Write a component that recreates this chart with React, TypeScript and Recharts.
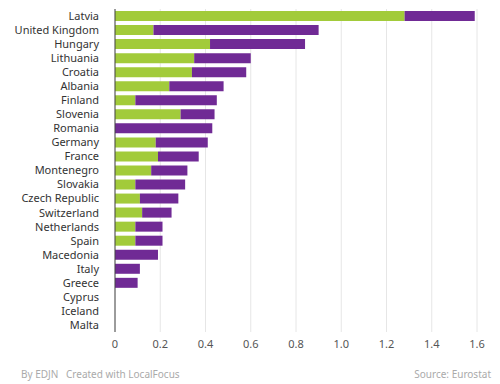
import { BarChart, Bar, XAxis, YAxis, CartesianGrid } from 'recharts'

const countries = [
  'Latvia', 'United Kingdom', 'Hungary', 'Lithuania', 'Croatia', 'Albania', 'Finland',
  'Slovenia', 'Romania', 'Germany', 'France', 'Montenegro', 'Slovakia', 'Czech Republic',
  'Switzerland', 'Netherlands', 'Spain', 'Macedonia', 'Italy', 'Greece', 'Cyprus',
  'Iceland', 'Malta',
]
const greenValues = [
  1.28, 0.17, 0.42, 0.35, 0.34, 0.24, 0.09, 0.29, 0, 0.18, 0.19, 0.16, 0.09, 0.11,
  0.12, 0.09, 0.09, 0, 0, 0, 0, 0, 0,
]
const purpleValues = [
  0.31, 0.73, 0.42, 0.25, 0.24, 0.24, 0.36, 0.15, 0.43, 0.23, 0.18, 0.16, 0.22, 0.17,
  0.13, 0.12, 0.12, 0.19, 0.11, 0.1, 0, 0, 0,
]
const xTicks = [0, 0.2, 0.4, 0.6, 0.8, 1.0, 1.2, 1.4, 1.6]

const GREEN = '#a2cb3a'
const PURPLE = '#702a95'
const FONT = '"Noto Sans", "Open Sans", sans-serif'

const data = countries.map((name, i) => ({
  name,
  a: greenValues[i],
  b: purpleValues[i],
}))

const fmt = (v: number) => (v === 0 ? '0' : v % 1 === 0 ? v.toFixed(1) : String(v))

export default function App() {
  return (
    <div style={{ position: 'absolute', left: 0, top: 0, width: 500, height: 384, background: '#fff', fontFamily: FONT }}>
      <BarChart
        width={500}
        height={362}
        data={data}
        layout="vertical"
        margin={{ top: 9, right: 23, left: 0, bottom: 0 }}
        barCategoryGap={2}
      >
        <CartesianGrid horizontal={false} stroke="#e6e6e6" />
        <XAxis
          type="number"
          domain={[0, 1.6]}
          ticks={xTicks}
          tickFormatter={fmt}
          axisLine={false}
          tickLine={false}
          height={30}
          tick={{ fontSize: 11, fill: '#555', fontFamily: FONT }}
        />
        <YAxis
          type="category"
          dataKey="name"
          width={115}
          interval={0}
          tickLine={false}
          tickSize={6}
          tickMargin={10}
          axisLine={{ stroke: '#444' }}
          tick={{ fontSize: 11, fill: '#333', fontFamily: FONT }}
        />
        <Bar dataKey="a" stackId="s" fill={GREEN} isAnimationActive={false} />
        <Bar dataKey="b" stackId="s" fill={PURPLE} isAnimationActive={false} />
      </BarChart>
      <div style={{ position: 'absolute', left: 21, top: 367, fontSize: 10, color: '#aaa' }}>
        By EDJN
      </div>
      <div style={{ position: 'absolute', left: 66, top: 367, fontSize: 10, color: '#aaa' }}>
        Created with LocalFocus
      </div>
      <div style={{ position: 'absolute', right: 9, top: 367, fontSize: 10, color: '#aaa' }}>
        Source: Eurostat
      </div>
    </div>
  )
}
